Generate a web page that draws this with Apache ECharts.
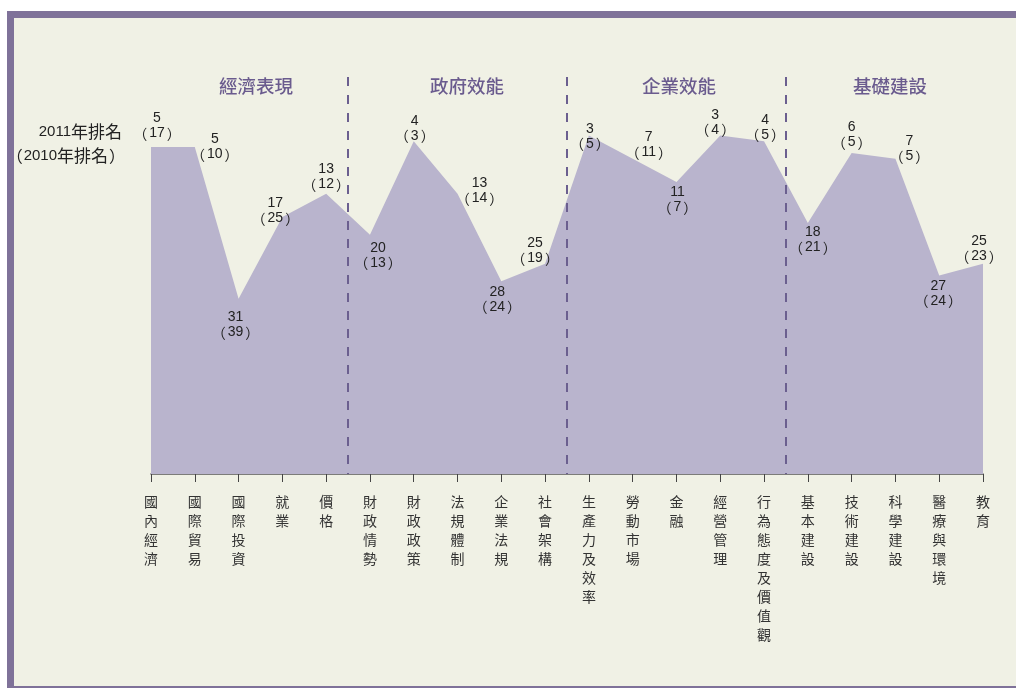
<!DOCTYPE html>
<html>
<head>
<meta charset="utf-8">
<script src="https://cdn.jsdelivr.net/npm/echarts@6/dist/echarts.min.js"></script>
<style>
  html, body { margin: 0; padding: 0; background: #fff; }
  #main { width: 1016px; height: 688px; }
</style>
</head>
<body>
<div id="main"></div>
<script>
// categories (x axis)
var categories = ['國內經濟', '國際貿易', '國際投資', '就業', '價格',
  '財政情勢', '財政政策', '法規體制', '企業法規', '社會架構',
  '生產力及效率', '勞動市場', '金融', '經營管理', '行為態度及價值觀',
  '基本建設', '技術建設', '科學建設', '醫療與環境', '教育'];
// 2011 rank (plotted) and 2010 rank (in brackets)
var rank2011 = [5, 5, 31, 17, 13, 20, 4, 13, 28, 25, 3, 7, 11, 3, 4, 18, 6, 7, 27, 25];
var rank2010 = [17, 10, 39, 25, 12, 13, 3, 14, 24, 19, 5, 11, 7, 4, 5, 21, 5, 5, 24, 23];
// group headers
var groups = ['經濟表現', '政府效能', '企業效能', '基礎建設'];
var groupSplits = [4.5, 9.5, 14.5];

/* label offsets from each point (px) */
var labelOffsets = [[6, -21], [20, 0], [-3, 26], [-7, -6], [0, -17],
  [8, 21], [1, -13], [22, -3], [-4, 18], [-10, -13],
  [1, 1], [16, -14], [1, 18], [-5, -13], [1, -14],
  [5, 17], [0, -18], [14, -10], [-1, 18], [-4, -15]];
var groupX = [256, 467, 679, 890];

var purple = '#7f7299';
var panel = '#f0f1e5';
var numFont = 'Liberation Sans, Arial, sans-serif';
var cjkFont = '"Noto Sans CJK TC"';

var seriesData = rank2011.map(function (v, i) {
  return {
    value: v,
    label: { offset: labelOffsets[i] }
  };
});

var graphics = [
  { type: 'rect', shape: { x: 7, y: 11, width: 1009, height: 677 }, style: { fill: purple }, z: -10, silent: true },
  { type: 'rect', shape: { x: 14, y: 18, width: 1002, height: 668 }, style: { fill: panel }, z: -9, silent: true },
  { type: 'text', x: 122, y: 132,
    style: { text: '{n|2011}{c|年排名}', align: 'right', verticalAlign: 'middle',
      rich: { n: { fontSize: 15, fontFamily: numFont, fill: '#222' }, c: { fontSize: 17, fontFamily: cjkFont, fill: '#222' } } } },
  { type: 'text', x: 125, y: 156,
    style: { text: '{po|（}{n|2010}{c|年排名}{pc|）}', align: 'right', verticalAlign: 'middle',
      rich: { n: { fontSize: 15, fontFamily: numFont, fill: '#222' }, c: { fontSize: 17, fontFamily: cjkFont, fill: '#222' },
        po: { fontSize: 16, fontFamily: cjkFont, fill: '#222', padding: [0, 1, 0, 0] },
        pc: { fontSize: 16, fontFamily: cjkFont, fill: '#222', padding: [0, 0, 0, 1] } } } }
];
groups.forEach(function (g, i) {
  graphics.push({
    type: 'text', x: groupX[i], y: 86,
    style: { text: g, fontSize: 18.5, fill: '#6a5b8e', fontFamily: cjkFont, fontWeight: 500,
      align: 'center', verticalAlign: 'middle' }
  });
});

var option = {
  animation: false,
  backgroundColor: '#fff',
  graphic: graphics,
  grid: { left: 151, right: 33, top: 77, bottom: 214 },
  xAxis: [{
    type: 'category',
    data: categories,
    position: 'bottom',
    boundaryGap: false,
    axisLine: { onZero: false, lineStyle: { color: '#555', width: 1.5 } },
    axisTick: { length: 8, lineStyle: { color: '#444' } },
    axisLabel: {
      interval: 0,
      margin: 18,
      fontSize: 14,
      lineHeight: 19,
      color: '#333',
      fontFamily: cjkFont,
      verticalAlign: 'top',
      formatter: function (v) { return v.split('').join('\n'); }
    }
  }, {
    type: 'value', min: 0, max: 19, show: false
  }],
  yAxis: {
    type: 'value', inverse: true, min: -7, max: 61, show: false
  },
  series: [{
    type: 'line',
    data: seriesData,
    symbol: 'circle',
    symbolSize: 1,
    showSymbol: true,
    showAllSymbol: true,
    itemStyle: { color: 'rgba(0,0,0,0)' },
    lineStyle: { width: 0, opacity: 0 },
    areaStyle: { color: '#b9b4cd', opacity: 1, origin: 'end' },
    emphasis: { disabled: true },
    label: {
      show: true,
      position: 'inside',
      color: '#222',
      formatter: function (p) {
        return '{n|' + p.value + '}\n{po|（}{n|' + rank2010[p.dataIndex] + '}{pc|）}';
      },
      rich: {
        n: { fontSize: 14, lineHeight: 15, fontFamily: numFont, color: '#222' },
        po: { fontSize: 14, lineHeight: 15, fontFamily: cjkFont, color: '#222', padding: [0, 2, 0, 0] },
        pc: { fontSize: 14, lineHeight: 15, fontFamily: cjkFont, color: '#222', padding: [0, 0, 0, 2] }
      }
    },
    z: 2
  }, {
    type: 'line',
    xAxisIndex: 1,
    data: [],
    markLine: {
      silent: true,
      symbol: 'none',
      label: { show: false },
      lineStyle: { color: '#6b5f8f', width: 2, type: [9, 9] },
      data: groupSplits.map(function (x) { return { xAxis: x }; })
    },
    z: 3
  }]
};

var chart = echarts.init(document.getElementById('main'));
chart.setOption(option);
</script>
</body>
</html>
